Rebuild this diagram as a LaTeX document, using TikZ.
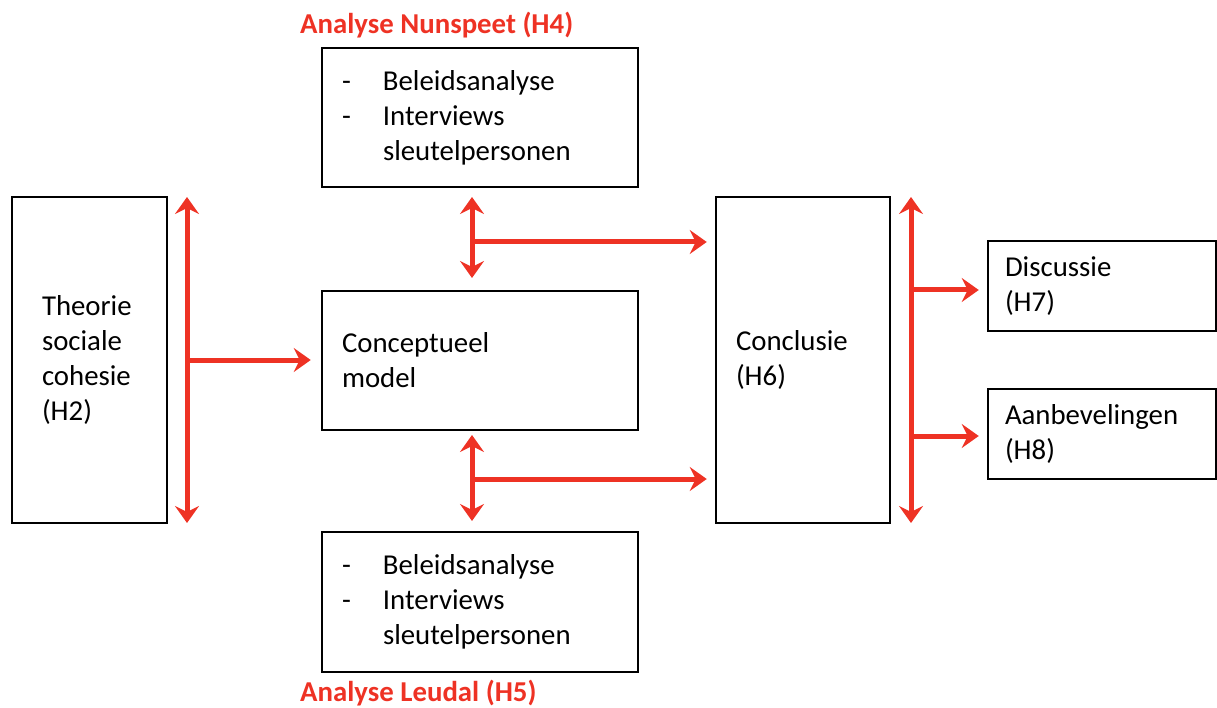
\documentclass[tikz,border=0pt]{standalone}
\usepackage{fontspec}
\setmainfont{Carlito}
\usetikzlibrary{arrows.meta}
\definecolor{arrowred}{RGB}{238,50,36}

\begin{document}
\begin{tikzpicture}[x=1pt, y=-1pt, every node/.style={font=\fontsize{28.8}{35}\selectfont}]
    % Styles
    \tikzstyle{box} = [rectangle, draw=black, line width=2.5pt, align=left, inner ysep=0pt, anchor=center]
    \tikzstyle{arrow} = [draw=arrowred, line width=5pt, -{Stealth[length=17pt, width=24pt, inset=6pt]}]
    \tikzstyle{twoway} = [draw=arrowred, line width=5pt, {Stealth[length=17pt, width=24pt, inset=6pt]}-{Stealth[length=17pt, width=24pt, inset=6pt]}]
    \tikzstyle{title} = [text=arrowred, font=\fontsize{28.8}{35}\selectfont\bfseries, anchor=west, inner sep=0pt]
    \newcommand{\dash}{\makebox[41pt][l]{-}}

    \useasboundingbox (0,0) rectangle (1217,708);

    % Nodes
    \node[box, minimum width=155pt, minimum height=326pt, text width=95pt, inner xsep=30pt] (theory) at (89.5,360) {Theorie\\sociale\\cohesie\\(H2)};
    \node[box, minimum width=316pt, minimum height=139pt, text width=276pt, inner xsep=20pt] (nunspeet) at (480,117.5) {\dash Beleidsanalyse\\\dash Interviews\\\hspace*{41pt}sleutelpersonen};
    \node[box, minimum width=316pt, minimum height=139pt, text width=276pt, inner xsep=20pt] (model) at (480,360.5) {Conceptueel\\model};
    \node[box, minimum width=316pt, minimum height=140pt, text width=276pt, inner xsep=20pt] (leudal) at (480,602) {\dash Beleidsanalyse\\\dash Interviews\\\hspace*{41pt}sleutelpersonen};
    \node[box, minimum width=174pt, minimum height=326pt, text width=134pt, inner xsep=20pt] (conclusion) at (803,360) {Conclusie\\(H6)};
    \node[box, minimum width=228pt, minimum height=90pt, text width=194pt, inner xsep=17pt] (discussion) at (1102,286) {Discussie\\(H7)};
    \node[box, minimum width=228pt, minimum height=90pt, text width=194pt, inner xsep=17pt] (advice) at (1102,434) {Aanbevelingen\\(H8)};

    \node[title] (titletop) at (300,25) {Analyse Nunspeet (H4)};
    \node[title] (titlebottom) at (300,693) {Analyse Leudal (H5)};

    % Junction points
    \coordinate (lefttop) at (187,197);
    \coordinate (leftbottom) at (187,523);
    \coordinate (leftmid) at (187,360);
    \coordinate (midtop) at (472,197);
    \coordinate (midtopend) at (472,278);
    \coordinate (midupper) at (472,242);
    \coordinate (midbottom) at (472,435);
    \coordinate (midbottomend) at (472,521);
    \coordinate (midlower) at (472,479);
    \coordinate (righttop) at (911,197);
    \coordinate (rightbottom) at (911,523);
    \coordinate (rightupper) at (911,290);
    \coordinate (rightlower) at (911,436);

    % Arrows
    \draw[twoway] (lefttop) -- (leftbottom);
    \draw[arrow, shorten >=10pt] (leftmid) -- (model.west |- leftmid);
    \draw[twoway] (midtop) -- (midtopend);
    \draw[arrow, shorten >=8pt] (midupper) -- (conclusion.west |- midupper);
    \draw[twoway] (midbottom) -- (midbottomend);
    \draw[arrow, shorten >=8pt] (midlower) -- (conclusion.west |- midlower);
    \draw[twoway] (righttop) -- (rightbottom);
    \draw[arrow, shorten >=8pt] (rightupper) -- (discussion.west |- rightupper);
    \draw[arrow, shorten >=8pt] (rightlower) -- (advice.west |- rightlower);
\end{tikzpicture}
\end{document}
